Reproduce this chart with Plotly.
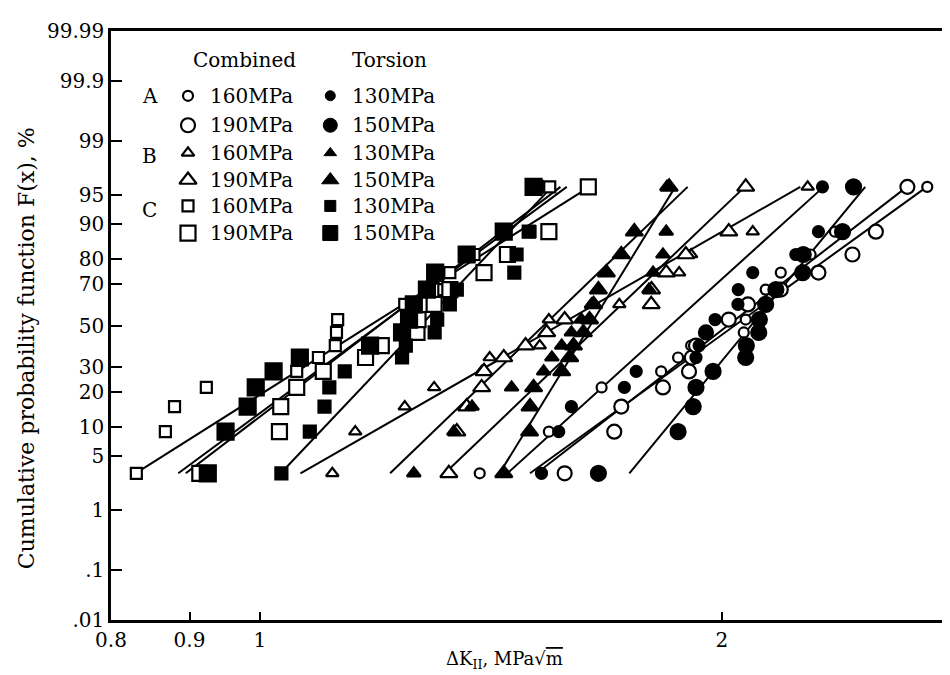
import math
import plotly.graph_objects as go

# ---------------- data ----------------
# cumulative probability levels (%) of the ranked points
F_LEVELS = [3.1, 9.0, 15.3, 21.7, 28.1, 34.3, 40.0, 46.5, 53.0, 60.5, 67.5, 74.8, 81.5, 88.2, 96.0]

# dK_II values (MPa*sqrt(m)) for each series, one per level
C_comb_160 = [0.831, 0.868, 0.880, 0.923, 1.057, 1.092, 1.120, 1.122, 1.124, 1.243, 1.318, 1.330, 1.379, 1.50, 1.545]
C_comb_190 = [0.914, 1.030, 1.032, 1.057, 1.10, 1.172, 1.20, 1.266, 1.268, 1.299, 1.33, 1.40, 1.45, 1.543, 1.637]
C_tor_130 = [1.033, 1.078, 1.102, 1.110, 1.136, 1.238, 1.245, 1.300, 1.305, 1.330, 1.344, 1.465, 1.470, 1.497, 1.515]
C_tor_150 = [0.925, 0.950, 0.982, 0.994, 1.021, 1.062, 1.180, 1.238, 1.251, 1.260, 1.285, 1.301, 1.364, 1.442, 1.508]

B_comb_160 = [1.115, 1.154, 1.243, 1.299, 1.395, 1.412, 1.522, 1.538, 1.543, 1.715, 1.793, 1.876, 1.910, 2.095, 2.275]
B_comb_190 = [1.328, 1.344, 1.364, 1.395, 1.40, 1.442, 1.49, 1.538, 1.58, 1.799, 1.80, 1.84, 1.895, 2.021, 2.073]
B_tor_130 = [1.260, 1.338, 1.375, 1.459, 1.531, 1.55, 1.573, 1.596, 1.62, 1.645, 1.793, 1.804, 1.831, 1.840, 1.842]
B_tor_150 = [1.442, 1.499, 1.50, 1.508, 1.573, 1.592, 1.601, 1.625, 1.640, 1.650, 1.662, 1.682, 1.720, 1.754, 1.848]

A_comb_160 = [1.391, 1.543, 1.596, 1.670, 1.826, 1.873, 1.910, 2.067, 2.073, 2.08, 2.136, 2.185, 2.285, 2.37, 2.722]
A_comb_190 = [1.580, 1.702, 1.720, 1.831, 1.904, 1.912, 1.924, 1.953, 2.021, 2.080, 2.185, 2.312, 2.433, 2.52, 2.642]
A_tor_130 = [1.526, 1.566, 1.596, 1.728, 1.759, 1.924, 1.933, 1.953, 1.98, 2.049, 2.05, 2.095, 2.235, 2.312, 2.326]
A_tor_150 = [1.662, 1.873, 1.916, 1.924, 1.974, 2.073, 2.075, 2.114, 2.116, 2.136, 2.169, 2.258, 2.26, 2.397, 2.437]

# fitted lines: dK at the lower / upper end, and the probability ends (%)
LINE_F = [3.1, 96.0]
C_comb_160_line = [0.895, 1.57]
C_comb_190_line = [0.83, 1.64]
C_tor_130_line = [1.032, 1.55]
C_tor_150_line = [0.885, 1.585]
B_comb_160_line = [1.063, 2.25]
B_comb_190_line = [1.32, 2.07]
B_tor_130_line = [1.216, 1.90]
B_tor_150_line = [1.433, 1.865]
A_comb_160_line = [1.50, 2.72]
A_comb_190_line = [1.515, 2.64]
A_tor_130_line = [1.45, 2.33]
A_tor_150_line = [1.741, 2.48]

Y_TICK_LABELS = [".01", ".1", "1", "5", "10", "20", "30", "50", "70", "80", "90", "95", "99", "99.9", "99.99"]
Y_TICK_VALUES = [0.01, 0.1, 1, 5, 10, 20, 30, 50, 70, 80, 90, 95, 99, 99.9, 99.99]
X_TICK_VALUES = [0.8, 0.9, 1, 2]
X_TICK_LABELS = ["0.8", "0.9", "1", "2"]

LEGEND_GROUPS = ["A", "B", "C"]
LEGEND_COMBINED = ["160MPa", "190MPa", "160MPa", "190MPa", "160MPa", "190MPa"]
LEGEND_TORSION = ["130MPa", "150MPa", "130MPa", "150MPa", "130MPa", "150MPa"]


# ---------------- probability scale ----------------
def probit(pct):
    p = pct / 100.0
    lo, hi = -12.0, 12.0
    for _ in range(90):
        mid = 0.5 * (lo + hi)
        if 0.5 * (1 + math.erf(mid / math.sqrt(2))) < p:
            lo = mid
        else:
            hi = mid
    return 0.5 * (lo + hi)


FONT = "DejaVu Serif"

# style per series: (symbol, size, filled)
series = [
    (C_comb_160, C_comb_160_line, "square", 11, False),
    (C_comb_190, C_comb_190_line, "square", 15, False),
    (C_tor_130, C_tor_130_line, "square", 12, True),
    (C_tor_150, C_tor_150_line, "square", 16, True),
    (B_comb_160, B_comb_160_line, "triangle-up", 11, False),
    (B_comb_190, B_comb_190_line, "triangle-up", 15, False),
    (B_tor_130, B_tor_130_line, "triangle-up", 12, True),
    (B_tor_150, B_tor_150_line, "triangle-up", 15, True),
    (A_comb_160, A_comb_160_line, "circle", 10, False),
    (A_comb_190, A_comb_190_line, "circle", 14, False),
    (A_tor_130, A_tor_130_line, "circle", 11, True),
    (A_tor_150, A_tor_150_line, "circle", 15, True),
]

fig = go.Figure()
ylev = [probit(f) for f in F_LEVELS]
yline = [probit(f) for f in LINE_F]

for xs, lx, sym, size, filled in series:
    fig.add_trace(go.Scatter(x=lx, y=yline, mode="lines",
                             line=dict(color="black", width=2),
                             showlegend=False, hoverinfo="skip"))
for xs, lx, sym, size, filled in series:
    fig.add_trace(go.Scatter(
        x=xs, y=ylev, mode="markers", showlegend=False,
        marker=dict(symbol=sym, size=size,
                    color="black" if filled else "white",
                    line=dict(color="black", width=2.2))))

# ---------------- hand-drawn legend (overlay axes in plot fractions) ----------------
rows_y = [0.890, 0.840, 0.793, 0.747, 0.703, 0.657]
leg_styles = [("circle", 10, 14), ("triangle-up", 11, 15), ("square", 11, 15)]
for i in range(6):
    sym, s_small, s_big = leg_styles[i // 2]
    size = s_small if i % 2 == 0 else s_big
    fig.add_trace(go.Scatter(x=[0.092], y=[rows_y[i]], xaxis="x2", yaxis="y2", mode="markers",
                             showlegend=False, hoverinfo="skip",
                             marker=dict(symbol=sym, size=size, color="white",
                                         line=dict(color="black", width=2.2))))
    fig.add_trace(go.Scatter(x=[0.262], y=[rows_y[i]], xaxis="x2", yaxis="y2", mode="markers",
                             showlegend=False, hoverinfo="skip",
                             marker=dict(symbol=sym, size=size, color="black",
                                         line=dict(color="black", width=1))))

ann = []
fs = 20
ann.append(dict(x=0.095, y=0.951, text="Combined", xanchor="left"))
ann.append(dict(x=0.2857, y=0.951, text="Torsion", xanchor="left"))
for i in range(6):
    ann.append(dict(x=0.1155, y=rows_y[i], text=LEGEND_COMBINED[i], xanchor="left"))
    ann.append(dict(x=0.2857, y=rows_y[i], text=LEGEND_TORSION[i], xanchor="left"))
for g, yy in zip(LEGEND_GROUPS, [0.890, 0.788, 0.696]):
    ann.append(dict(x=0.046, y=yy, text=g, xanchor="center"))
annotations = []
for a in ann:
    a.update(xref="paper", yref="paper", yanchor="middle", showarrow=False,
             font=dict(family=FONT, size=fs, color="black"))
    annotations.append(a)

annotations.append(dict(xref="paper", yref="paper", x=0.47, y=-0.068, yanchor="middle",
                        xanchor="center", showarrow=False,
                        text="ΔK<sub>II</sub>, MPa√<span style='text-decoration:overline'>m</span>",
                        font=dict(family=FONT, size=18, color="black")))
annotations.append(dict(xref="paper", yref="paper", x=-0.1, y=0.462, textangle=-90,
                        xanchor="center", yanchor="middle", showarrow=False,
                        text="Cumulative probability function F(x), %",
                        font=dict(family=FONT, size=22, color="black")))

fig.update_layout(
    width=950, height=675,
    margin=dict(l=103, r=7, t=23, b=63),
    paper_bgcolor="white", plot_bgcolor="white",
    annotations=annotations,
    xaxis=dict(type="log", range=[math.log10(0.8), math.log10(2.808)],
               tickvals=X_TICK_VALUES, ticktext=X_TICK_LABELS,
               ticks="inside", ticklen=8, tickwidth=2, tickcolor="black",
               showline=True, linecolor="black", linewidth=2.5, mirror=True,
               showgrid=False, zeroline=False,
               tickfont=dict(family=FONT, size=20, color="black")),
    yaxis=dict(range=[probit(0.01), probit(99.99)],
               tickvals=[probit(v) for v in Y_TICK_VALUES], ticktext=Y_TICK_LABELS,
               ticks="inside", ticklen=11, tickwidth=2, tickcolor="black",
               showline=True, linecolor="black", linewidth=2.5, mirror=True,
               showgrid=False, zeroline=False,
               tickfont=dict(family=FONT, size=20, color="black")),
    xaxis2=dict(overlaying="x", range=[0, 1], visible=False, anchor="y2"),
    yaxis2=dict(overlaying="y", range=[0, 1], visible=False, anchor="x2"),
)

fig.write_html("out.html")
